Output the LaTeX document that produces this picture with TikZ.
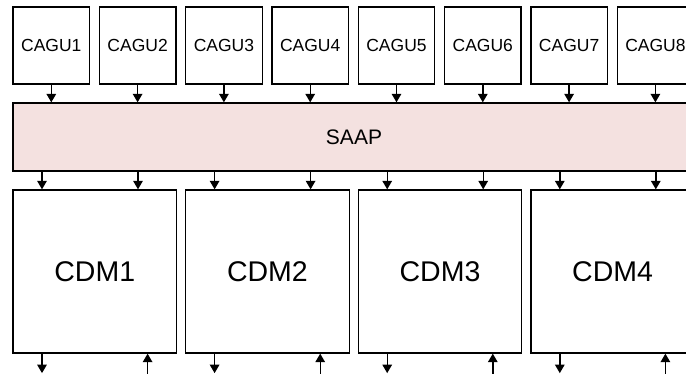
\documentclass[tikz,border=0pt]{standalone}
\usepackage{fontspec}
\setmainfont{Liberation Sans}
\usetikzlibrary{arrows.meta}
\definecolor{saappink}{HTML}{F4E1E0}
\tikzset{
    blk/.style={draw,line width=1.3pt,inner sep=0pt,align=center},
    agu/.style={blk,minimum width=76.5pt,minimum height=77pt,font=\fontsize{17.5}{19}\selectfont},
    cdm/.style={blk,minimum width=163.5pt,minimum height=163pt,font=\fontsize{28.5}{31}\selectfont},
    arr/.style={line width=1.4pt,-{Triangle[length=8.5pt,width=9.5pt]}}
}
\begin{document}
\begin{tikzpicture}[x=1pt,y=-1pt]
    \useasboundingbox (0,0) rectangle (686,374);
    \clip (0,0) rectangle (686,374);
    \node[blk,fill=saappink,minimum width=682pt,minimum height=68pt,font=\fontsize{21}{23}\selectfont] (saap) at (354,137) {SAAP};
    \foreach \i in {1,...,8}{
        \node[agu] (cagu\i) at ({51.3+86.3*(\i-1)},45.5) {CAGU\i};
        \draw[arr] (cagu\i.south) -- (cagu\i.south |- saap.north);
    }
    \foreach \i in {1,...,4}{
        \node[cdm] (cdm\i) at ({94.8+172.6*(\i-1)},271.5) {CDM\i};
        \coordinate (in\i a) at ([xshift=-52.8pt]cdm\i.north);
        \coordinate (in\i b) at ([xshift=43.2pt]cdm\i.north);
        \draw[arr] (in\i a |- saap.south) -- (in\i a);
        \draw[arr] (in\i b |- saap.south) -- (in\i b);
        \coordinate (out\i) at ([xshift=-52.8pt]cdm\i.south);
        \coordinate (ret\i) at ([xshift=52.8pt]cdm\i.south);
        \draw[arr] (out\i) -- ++(0,19.5);
        \draw[arr] ([yshift=-21pt]ret\i) -- (ret\i);
    }
\end{tikzpicture}
\end{document}
